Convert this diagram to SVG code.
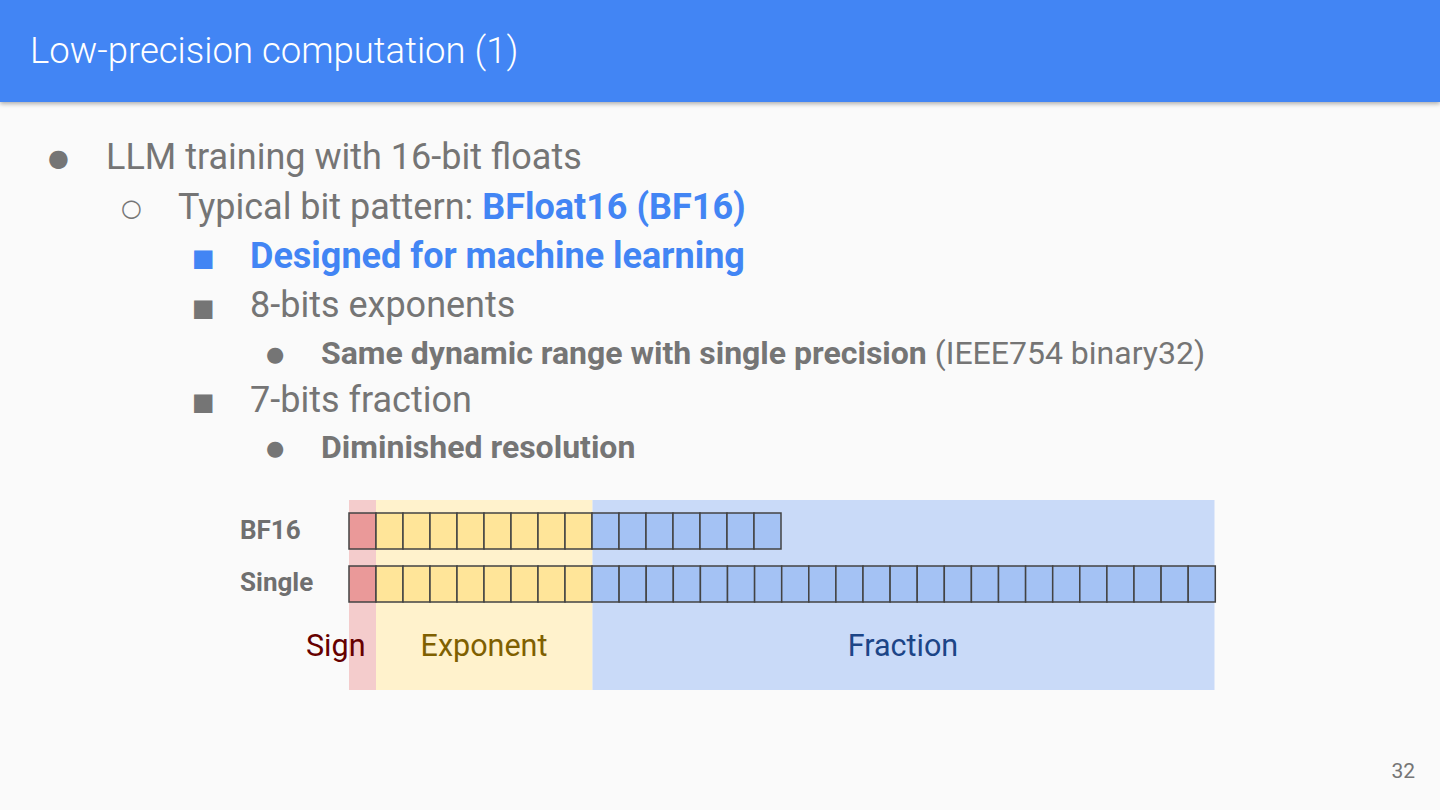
<svg xmlns="http://www.w3.org/2000/svg" width="1440" height="810" viewBox="0 0 1440 810">
<defs>
<style>
text{font-family:Roboto,"Liberation Sans",sans-serif}
.bu{font-family:"DejaVu Sans",sans-serif;font-weight:normal}
.g{fill:#757575}
.b{fill:#4285f4;font-weight:bold}
.l1{font-size:36px}
.l2{font-size:32px}
.bold{font-weight:bold}
.cell{stroke:#434343;stroke-width:1.5}
.s{fill:#ea9999}
.e{fill:#ffe599}
.f{fill:#a4c2f4}
.lbl{font-size:26px;font-weight:bold;fill:#6f6f6f}
.cap{font-size:30.5px}
</style>
<filter id="sh" x="-5%" y="-20%" width="110%" height="150%">
<feDropShadow dx="0" dy="2" stdDeviation="2" flood-color="#000" flood-opacity="0.3"/>
</filter>
</defs>
<rect x="0" y="0" width="1440" height="810" fill="#fafafa"/>
<g id="title">
<rect x="0" y="0" width="1440" height="102" fill="#4285f4" filter="url(#sh)"/>
<text x="30" y="63" font-size="36.5" fill="#ffffff" style="font-weight:300">Low-precision computation (1)</text>
</g>
<g id="bullets">
<text x="48" y="166" class="g bu" font-size="24">●</text>
<text x="106" y="169" class="g l1">LLM training with 16-bit floats</text>
<text x="121" y="216" class="g bu" font-size="24">○</text>
<text x="178" y="219" class="g l1">Typical bit pattern: <tspan class="b">BFloat16 (BF16)</tspan></text>
<text x="192" y="266" class="b bu" font-size="24">■</text>
<text x="250" y="268" class="b l1">Designed for machine learning</text>
<text x="192" y="316" class="g bu" font-size="24">■</text>
<text x="250" y="317" class="g l1">8-bits exponents</text>
<text x="266" y="361" class="g bu" font-size="21">●</text>
<text x="321" y="364" class="g l2"><tspan class="bold">Same dynamic range with single precision</tspan> (IEEE754 binary32)</text>
<text x="192" y="410" class="g bu" font-size="24">■</text>
<text x="250" y="412" class="g l1">7-bits fraction</text>
<text x="266" y="455" class="g bu" font-size="21">●</text>
<text x="321" y="458" class="g l2 bold">Diminished resolution</text>
</g>
<g id="bands">
<rect x="349" y="500" width="27" height="190" fill="#f4cccc"/>
<rect x="376" y="500" width="216.5" height="190" fill="#fff2cc"/>
<rect x="592.5" y="500" width="622" height="190" fill="#c9daf8"/>
</g>
<g id="bf16">
<text x="240" y="539" class="lbl">BF16</text>
<rect class="cell s" x="349" y="513" width="27" height="36"/>
<rect class="cell e" x="376" y="513" width="27" height="36"/>
<rect class="cell e" x="403" y="513" width="27" height="36"/>
<rect class="cell e" x="430" y="513" width="27" height="36"/>
<rect class="cell e" x="457" y="513" width="27" height="36"/>
<rect class="cell e" x="484" y="513" width="27" height="36"/>
<rect class="cell e" x="511" y="513" width="27" height="36"/>
<rect class="cell e" x="538" y="513" width="27" height="36"/>
<rect class="cell e" x="565" y="513" width="27" height="36"/>
<rect class="cell f" x="592" y="513" width="27" height="36"/>
<rect class="cell f" x="619" y="513" width="27" height="36"/>
<rect class="cell f" x="646" y="513" width="27" height="36"/>
<rect class="cell f" x="673" y="513" width="27" height="36"/>
<rect class="cell f" x="700" y="513" width="27" height="36"/>
<rect class="cell f" x="727" y="513" width="27" height="36"/>
<rect class="cell f" x="754" y="513" width="27" height="36"/>
</g>
<g id="single">
<text x="240" y="591" class="lbl">Single</text>
<rect class="cell s" x="349" y="566" width="27" height="36"/>
<rect class="cell e" x="376" y="566" width="27" height="36"/>
<rect class="cell e" x="403" y="566" width="27" height="36"/>
<rect class="cell e" x="430" y="566" width="27" height="36"/>
<rect class="cell e" x="457" y="566" width="27" height="36"/>
<rect class="cell e" x="484" y="566" width="27" height="36"/>
<rect class="cell e" x="511" y="566" width="27" height="36"/>
<rect class="cell e" x="538" y="566" width="27" height="36"/>
<rect class="cell e" x="565" y="566" width="27" height="36"/>
<rect class="cell f" x="592" y="566" width="27.1" height="36"/>
<rect class="cell f" x="619.1" y="566" width="27.1" height="36"/>
<rect class="cell f" x="646.2" y="566" width="27.1" height="36"/>
<rect class="cell f" x="673.3" y="566" width="27.1" height="36"/>
<rect class="cell f" x="700.4" y="566" width="27.1" height="36"/>
<rect class="cell f" x="727.5" y="566" width="27.1" height="36"/>
<rect class="cell f" x="754.6" y="566" width="27.1" height="36"/>
<rect class="cell f" x="781.7" y="566" width="27.1" height="36"/>
<rect class="cell f" x="808.8" y="566" width="27.1" height="36"/>
<rect class="cell f" x="835.9" y="566" width="27.1" height="36"/>
<rect class="cell f" x="863" y="566" width="27.1" height="36"/>
<rect class="cell f" x="890.1" y="566" width="27.1" height="36"/>
<rect class="cell f" x="917.2" y="566" width="27.1" height="36"/>
<rect class="cell f" x="944.3" y="566" width="27.1" height="36"/>
<rect class="cell f" x="971.4" y="566" width="27.1" height="36"/>
<rect class="cell f" x="998.5" y="566" width="27.1" height="36"/>
<rect class="cell f" x="1025.6" y="566" width="27.1" height="36"/>
<rect class="cell f" x="1052.7" y="566" width="27.1" height="36"/>
<rect class="cell f" x="1079.8" y="566" width="27.1" height="36"/>
<rect class="cell f" x="1106.9" y="566" width="27.1" height="36"/>
<rect class="cell f" x="1134" y="566" width="27.1" height="36"/>
<rect class="cell f" x="1161.1" y="566" width="27.1" height="36"/>
<rect class="cell f" x="1188.2" y="566" width="27.1" height="36"/>
</g>
<g id="captions">
<text x="306" y="656" class="cap" fill="#660000">Sign</text>
<text x="484" y="656" class="cap" fill="#7f6000" text-anchor="middle">Exponent</text>
<text x="903" y="656" class="cap" fill="#1c4587" text-anchor="middle">Fraction</text>
</g>
<text x="1415" y="778" font-size="21" fill="#757575" text-anchor="end">32</text>
</svg>
